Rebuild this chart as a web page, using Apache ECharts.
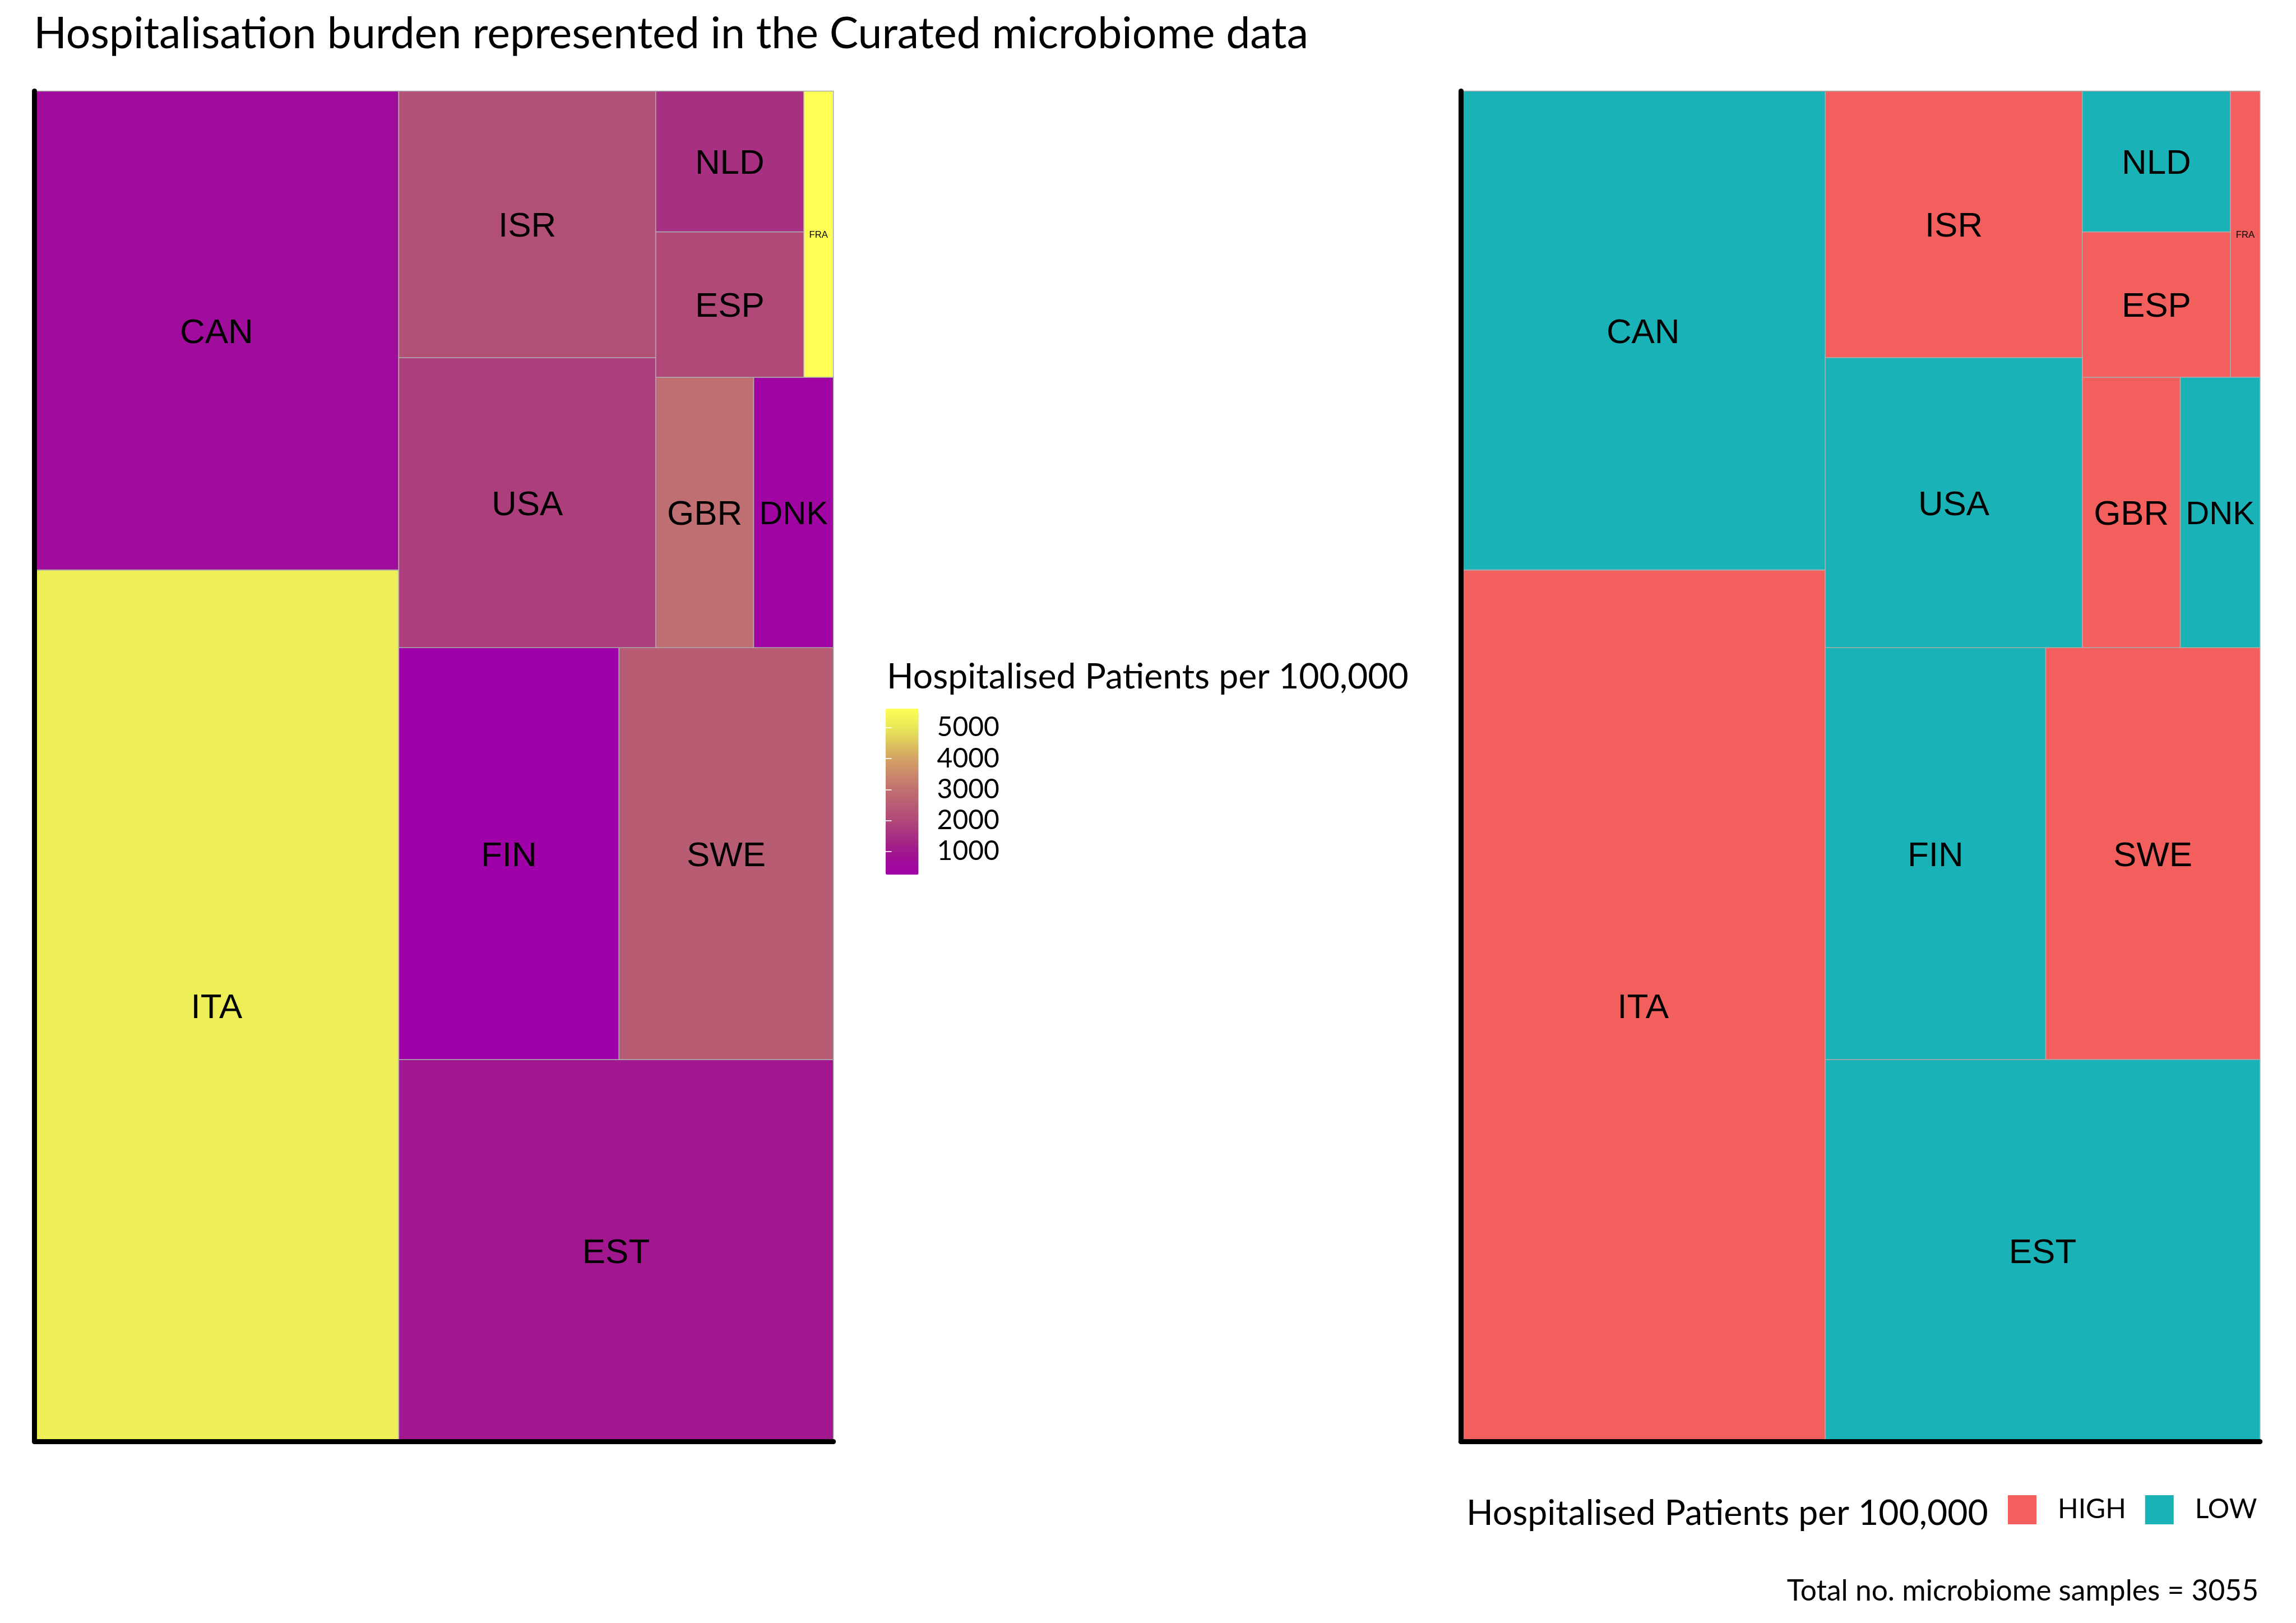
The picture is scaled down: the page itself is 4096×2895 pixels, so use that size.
<!DOCTYPE html>
<html><head><meta charset="utf-8">
<script src="https://cdn.jsdelivr.net/npm/echarts@6/dist/echarts.min.js"></script>
<style>html,body{margin:0;padding:0;background:#fff}#c{width:4096px;height:2895px}</style>
</head><body><div id="c"></div>
<script>
// ---------------- data ----------------
const countries    = ['CAN','DNK','ESP','EST','FIN','FRA','GBR','ISR','ITA','NLD','SWE','USA'];
const samples      = [494, 61, 61, 470, 257, 24, 75, 194, 899, 59, 250, 211];
const hospPer100k  = [620, 400, 2000, 960, 254, 5612, 2950, 2200, 5150, 1500, 2500, 1800];
const hospLevel    = ['LOW','LOW','HIGH','LOW','LOW','HIGH','HIGH','HIGH','HIGH','LOW','HIGH','LOW'];
const levelNames   = ['HIGH','LOW'];
const colorbarTicks = [1000, 2000, 3000, 4000, 5000];
const titleText    = 'Hospitalisation burden represented in the Curated microbiome data';
const legendTitle  = 'Hospitalised Patients per 100,000';
const totalSamples = samples.reduce((a, b) => a + b, 0);
const captionText  = 'Total no. microbiome samples = ' + totalSamples;

// ---------------- styling ----------------
const LEVEL_COLORS = {HIGH: '#F25F5C', LOW: '#19B2B7'};
const TXT_FONT = 'Lato';
const TILE_FONT = 'Liberation Sans';
const LABEL_BASE = 61.9, LABEL_PAD = 9.7, LABEL_DY = 5;
const TXT_DY = 5;
const PANEL_TOP = 162.5, PANEL_H = 2408.6;
const LEFT_PANEL = {left: 61.5, width: 1425.2};
const RIGHT_PANEL = {left: 2606.2, width: 1425.6};
const BAR = {left: 1580, top: 1264, width: 58.6, height: 296.2};

const vmin = Math.min(...hospPer100k), vmax = Math.max(...hospPer100k);
// perceived colour ramp of the reference colourbar
const rampStops = [[vmin,'#A000A8'],[1000,'#A0188E'],[2000,'#B04878'],[3000,'#C07070'],[4000,'#D4A264'],[5000,'#E8E858'],[vmax,'#FFFF55']];
function hex2rgb(h){return [parseInt(h.slice(1,3),16),parseInt(h.slice(3,5),16),parseInt(h.slice(5,7),16)];}
function rampAt(v){
  for (let i=0;i<rampStops.length-1;i++){
    const [v0,c0]=rampStops[i],[v1,c1]=rampStops[i+1];
    if (v<=v1 || i===rampStops.length-2){
      const t=Math.max(0,Math.min(1,(v-v0)/(v1-v0)));
      const a=hex2rgb(c0),b=hex2rgb(c1);
      return 'rgb('+a.map((x,k)=>Math.round(x+(b[k]-x)*t)).join(',')+')';
    }
  }
}
const rampColors=[]; for(let i=0;i<=40;i++) rampColors.push(rampAt(vmin+(vmax-vmin)*i/40));

// ---------------- squarified treemap layout in the unit square (data space, y up) ----------------
function worst(row, L){
  const s=row.reduce((a,r)=>a+r.area,0), mx=Math.max(...row.map(r=>r.area)), mn=Math.min(...row.map(r=>r.area));
  return Math.max(L*L*mx/(s*s),(s*s)/(L*L*mn));
}
function squarify(items){
  const out=[]; const rect={x:0,y:0,w:1,h:1}; let i=0;
  while(i<items.length){
    const horiz = rect.w < rect.h;
    const L = horiz ? rect.w : rect.h;
    let row=[items[i]], best=worst(row,L); i++;
    while(i<items.length){
      const trial=row.concat([items[i]]); const sc=worst(trial,L);
      if(sc<=best){row=trial;best=sc;i++;} else break;
    }
    const sum=row.reduce((a,r)=>a+r.area,0), thick=sum/L;
    let pos = horiz ? rect.x : rect.y;
    row.forEach(r=>{
      const len=r.area/thick;
      if(horiz) out.push(Object.assign({},r,{x0:pos,x1:pos+len,y0:rect.y,y1:rect.y+thick}));
      else out.push(Object.assign({},r,{x0:rect.x,x1:rect.x+thick,y0:pos,y1:pos+len}));
      pos+=len;
    });
    if(horiz){rect.y+=thick;rect.h-=thick;} else {rect.x+=thick;rect.w-=thick;}
  }
  return out;
}
const items = countries.map((c,i)=>({name:c, area:samples[i]/totalSamples, hosp:hospPer100k[i], level:hospLevel[i]}));
items.sort((a,b)=>b.area-a.area);
const tiles = squarify(items);

// ---------------- labels fitted to tile width (like ggfittext) ----------------
const mctx=document.createElement('canvas').getContext('2d');
function fitSize(text,w,h){
  mctx.font=LABEL_BASE+'px "'+TILE_FONT+'"';
  const tw=mctx.measureText(text).width;
  const avail=w-2*LABEL_PAD;
  let fs=LABEL_BASE;
  if(tw>avail) fs=LABEL_BASE*avail/tw;
  return fs;
}
function makeRender(list){
  return function(params, api){
    const t=list[params.dataIndex];
    const a=api.coord([api.value(0),api.value(3)]);
    const b=api.coord([api.value(2),api.value(1)]);
    const x=a[0],y=a[1],w=b[0]-a[0],h=b[1]-a[1];
    const fs=fitSize(t.name,w,h);
    return {type:'group',children:[
      {type:'rect',shape:{x:x,y:y,width:w,height:h},style:{fill:api.visual('color'),stroke:'#ababab',lineWidth:1.6}},
      {type:'text',style:{x:x+w/2,y:y+h/2+LABEL_DY*fs/LABEL_BASE,text:t.name,fontSize:fs,fontFamily:TILE_FONT,fill:'#000',align:'center',verticalAlign:'middle'}}
    ]};
  };
}
const tileRow = t => [t.x0,t.y0,t.x1,t.y1,t.hosp];
const byLevel = {};
levelNames.forEach(l=>byLevel[l]=tiles.filter(t=>t.level===l));

function panelAxis(idx){
  return {type:'value',gridIndex:idx,min:0,max:1,z:10,
    axisLine:{show:true,onZero:false,lineStyle:{color:'#000',width:9}},
    axisTick:{show:false},axisLabel:{show:false},splitLine:{show:false}};
}

const chart=echarts.init(document.getElementById('c'),null,{renderer:'canvas',width:4096,height:2895});
const option={
  backgroundColor:'#fff',
  animation:false,
  grid:[
    {left:LEFT_PANEL.left,top:PANEL_TOP,width:LEFT_PANEL.width,height:PANEL_H,outerBoundsMode:'none'},
    {left:RIGHT_PANEL.left,top:PANEL_TOP,width:RIGHT_PANEL.width,height:PANEL_H,outerBoundsMode:'none'},
    {left:BAR.left,top:BAR.top,width:BAR.width,height:BAR.height,outerBoundsMode:'none',z:10}
  ],
  xAxis:[panelAxis(0),panelAxis(1),{type:'value',gridIndex:2,min:0,max:1,show:false}],
  yAxis:[panelAxis(0),panelAxis(1),
    {type:'value',gridIndex:2,position:'right',min:vmin,max:vmax,z:10,
      axisLine:{show:false},splitLine:{show:false},
      axisTick:{show:true,inside:true,length:10.7,customValues:colorbarTicks,lineStyle:{color:'#fff',width:1.6}},
      axisLabel:{show:true,customValues:colorbarTicks,margin:33,fontSize:48,fontFamily:TXT_FONT,color:'#000',
        padding:[2*TXT_DY,0,0,0],formatter:v=>String(v)}},
    {type:'value',gridIndex:2,position:'left',min:vmin,max:vmax,z:10,
      axisLine:{show:false},splitLine:{show:false},axisLabel:{show:false},
      axisTick:{show:true,inside:true,length:10.7,customValues:colorbarTicks,lineStyle:{color:'#fff',width:1.6}}}
  ],
  visualMap:[{
    type:'continuous',seriesIndex:0,dimension:4,min:vmin,max:vmax,
    left:BAR.left,top:BAR.top,itemWidth:BAR.width,itemHeight:BAR.height,
    padding:0,calculable:false,showLabel:false,text:null,realtime:false,
    inRange:{color:rampColors},z:4
  }],
  legend:{
    data:levelNames,orient:'horizontal',left:3582,top:2667,padding:0,
    itemWidth:51,itemHeight:52,itemGap:34,icon:'rect',selectedMode:false,
    textStyle:{fontSize:48,fontFamily:TXT_FONT,color:'#000',padding:[2*TXT_DY,0,0,33]}
  },
  series:[
    {type:'custom',name:'hosp',xAxisIndex:0,yAxisIndex:0,z:2,encode:{x:[0,2],y:[1,3]},
      renderItem:makeRender(tiles),data:tiles.map(tileRow)},
    ...levelNames.map((l,k)=>({type:'custom',name:l,xAxisIndex:1,yAxisIndex:1,z:2,encode:{x:[0,2],y:[1,3]},
      itemStyle:{color:LEVEL_COLORS[l]},renderItem:makeRender(byLevel[l]),data:byLevel[l].map(tileRow)}))
  ],
  graphic:[
    {type:'text',x:60.2,y:61,style:{text:titleText,fontSize:77,fontFamily:TXT_FONT,fill:'#000',align:'left',verticalAlign:'middle'}},
    {type:'text',x:1582,y:1203+TXT_DY,style:{text:legendTitle,fontSize:62.5,fontFamily:TXT_FONT,fill:'#000',align:'left',verticalAlign:'middle'}},
    {type:'text',x:2616,y:2694.5+TXT_DY,style:{text:legendTitle,fontSize:62.5,fontFamily:TXT_FONT,fill:'#000',align:'left',verticalAlign:'middle'}},
    {type:'text',x:4029,y:2833.5+TXT_DY,style:{text:captionText,fontSize:51.5,fontFamily:TXT_FONT,fill:'#000',align:'right',verticalAlign:'middle'}}
  ]
};
chart.setOption(option);
</script></body></html>
